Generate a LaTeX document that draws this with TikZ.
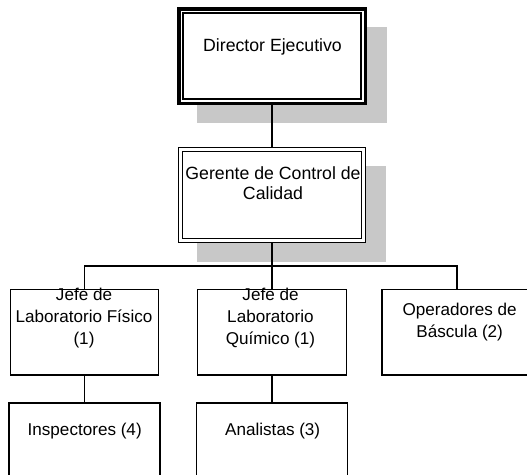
\documentclass[tikz,border=0pt]{standalone}
\usepackage{fontspec}
\setmainfont{Liberation Sans}
\definecolor{shadowgray}{RGB}{200,200,200}
\begin{document}
\begin{tikzpicture}[x=1pt,y=-1pt,
  box/.style={draw, line width=1.3pt, fill=white, inner sep=0pt, outer sep=0pt},
  thickbox/.style={box, line width=3.5pt},
  shadowbox/.style={fill=shadowgray, draw=none},
  lbl/.style={inner sep=0pt, align=center, anchor=base},
  big/.style={font=\fontsize{17.7}{20}\selectfont},
  small/.style={font=\fontsize{17.1}{22}\selectfont},
  link/.style={line width=1.3pt}]
\path[use as bounding box, clip] (0,0) rectangle (527,474);

% drop shadows of the two upper boxes
\fill[shadowbox] (197,27) rectangle (387,123);
\fill[shadowbox] (197,166) rectangle (386,262);

% upper boxes (double frame)
\node[thickbox, minimum width=186.5pt, minimum height=94.5pt] (dir) at (272,56) {};
\draw[link] ([shift={(4.25,4.25)}]dir.north west) rectangle ([shift={(-4.25,-4.25)}]dir.south east);
\node[box, minimum width=186.7pt, minimum height=94.7pt] (ger) at (272,195) {};
\draw[link] ([shift={(3.9,3.9)}]ger.north west) rectangle ([shift={(-3.9,-3.9)}]ger.south east);

% middle row
\node[box, minimum width=148pt, minimum height=85.5pt] (j1) at (84.5,332.25) {};
\node[box, minimum width=149pt, minimum height=85.5pt] (j2) at (272,332.25) {};
\node[box, minimum width=150pt, minimum height=85.5pt] (j3) at (457,332.25) {};

% bottom row
\node[box, minimum width=151pt, minimum height=87pt] (ins) at (84.5,446.5) {};
\node[box, minimum width=151pt, minimum height=87pt] (ana) at (272,446.5) {};

% connectors
\coordinate (bus) at (272,266);
\draw[link] (dir.south) -- (ger.north);
\draw[link] (ger.south) -- (j2.north);
\draw[link] (j1.north) |- (bus) -| (j3.north);
\draw[link] (j1.south) -- (ins.north);
\draw[link] (j2.south) -- (ana.north);

% labels (base anchor sits on the last line)
\node[lbl, big] (dirT) at (272.5,51.7) {Director Ejecutivo};
\node[lbl, big] (gerT) at (273,199.3) {Gerente de Control de\\Calidad};
\node[lbl, small] (j1T) at (84,344.7) {Jefe de\\Laboratorio Físico\\(1)};
\node[lbl, small] (j2T) at (270.5,344.7) {Jefe de\\Laboratorio\\Químico (1)};
\node[lbl, small] (j3T) at (459.7,337.5) {Operadores de\\Báscula (2)};
\node[lbl, small] (insT) at (84.7,435) {Inspectores (4)};
\node[lbl, small] (anaT) at (272.7,435) {Analistas (3)};
\end{tikzpicture}
\end{document}
